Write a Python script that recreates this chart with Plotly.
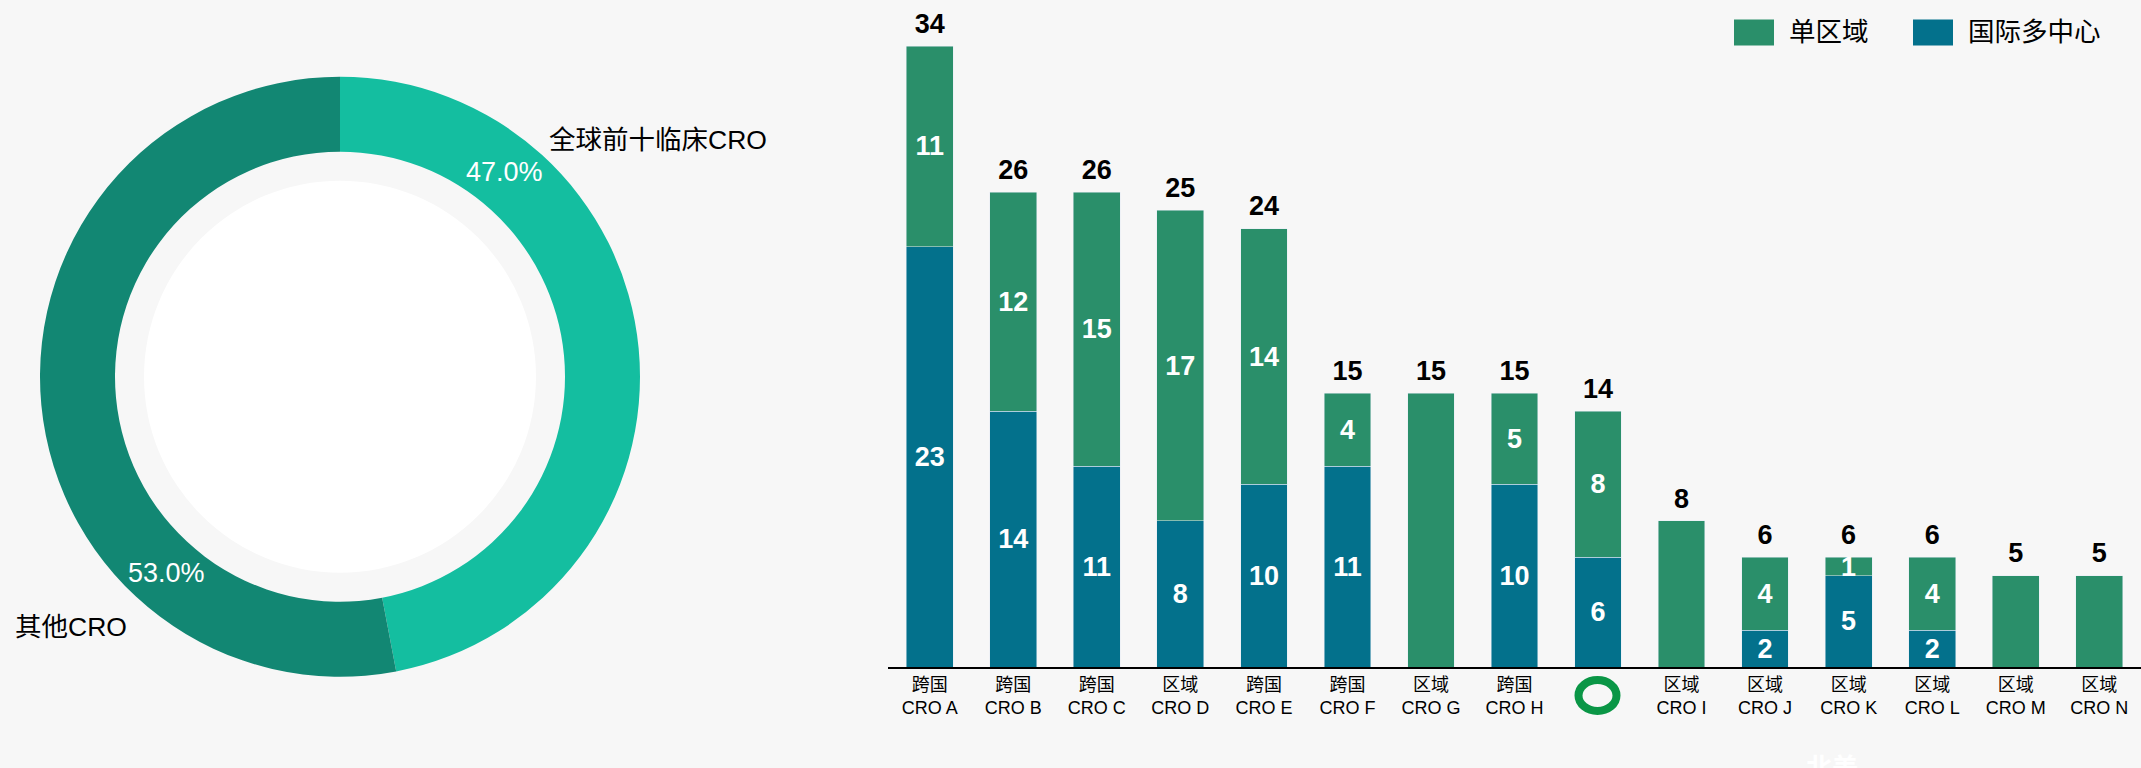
import plotly.graph_objects as go
import math

# ---------------- data ----------------
donut_labels = ["全球前十临床CRO", "其他CRO"]
donut_values = [47, 53]

cro_ids = ["CRO A", "CRO B", "CRO C", "CRO D", "CRO E", "CRO F", "CRO G", "CRO H",
           "Tigermed", "CRO I", "CRO J", "CRO K", "CRO L", "CRO M", "CRO N"]
cro_types = ["跨国", "跨国", "跨国", "区域", "跨国", "跨国", "区域", "跨国",
             "", "区域", "区域", "区域", "区域", "区域", "区域"]
single_region = [11, 12, 15, 17, 14, 4, 15, 5, 8, 8, 4, 1, 4, 5, 5]     # 单区域
multi_center = [23, 14, 11, 8, 10, 11, 0, 10, 6, 0, 2, 5, 2, 0, 0]     # 国际多中心

tick_labels = [f"{t}<br>{n}" if t else "" for t, n in zip(cro_types, cro_ids)]
totals = [a + b for a, b in zip(single_region, multi_center)]

# ---------------- style ----------------
W, H = 2141, 768
BG = "#f7f7f7"
GREEN = "#2a8f6a"
BLUE = "#03718c"
LIGHT = "#14bea0"
DARK = "#128773"
FONT = "Liberation Sans, Arial, Noto Sans CJK SC, sans-serif"


def px_x(x):
    return x / W


def px_y(y):
    return 1 - y / H


fig = go.Figure()

# ---------------- donut ----------------
cx, cy, r_out, r_in, r_white = 340, 376.7, 300, 225, 196
fig.add_trace(go.Pie(
    labels=donut_labels, values=donut_values, hole=r_in / r_out,
    sort=False, direction="clockwise", rotation=0,
    marker=dict(colors=[LIGHT, DARK], line=dict(width=0)),
    textinfo="none", hoverinfo="label+percent", showlegend=False,
    domain=dict(x=[px_x(cx - r_out), px_x(cx + r_out)],
                y=[px_y(cy + r_out), px_y(cy - r_out)]),
))
fig.add_trace(go.Pie(
    labels=[""], values=[1], sort=False,
    marker=dict(colors=["#ffffff"], line=dict(width=0)),
    textinfo="none", hoverinfo="skip", showlegend=False,
    domain=dict(x=[px_x(cx - r_white), px_x(cx + r_white)],
                y=[px_y(cy + r_white), px_y(cy - r_white)]),
))

total_donut = sum(donut_values)
pct_angles = [38.9, 221.5]
r_lab = 262.5
annotations = []
for v, ang in zip(donut_values, pct_angles):
    a = math.radians(ang)
    x = cx + r_lab * math.sin(a)
    y = cy - r_lab * math.cos(a)
    annotations.append(dict(
        text=f"{v / total_donut * 100:.1f}%", x=px_x(x), y=px_y(y),
        xref="paper", yref="paper", showarrow=False,
        xanchor="center", yanchor="middle",
        font=dict(family=FONT, size=27, color="#ffffff")))

outer_pos = [(547, 140), (12.7, 627)]
for lab, (x, y) in zip(donut_labels, outer_pos):
    annotations.append(dict(
        text=lab, x=px_x(x), y=px_y(y), xref="paper", yref="paper",
        showarrow=False, xanchor="left", yanchor="middle",
        font=dict(family=FONT, size=26.5, color="#000000")))

# ---------------- stacked bars ----------------
fig.add_trace(go.Bar(
    name="国际多中心", x=cro_ids, y=multi_center, marker_color=BLUE,
    text=[str(v) if v > 0 else "" for v in multi_center],
    textposition="inside", insidetextanchor="middle", textangle=0,
    textfont=dict(family=FONT, size=27, color="#ffffff", weight="bold"),
    cliponaxis=False, showlegend=False, xaxis="x", yaxis="y",
))
fig.add_trace(go.Bar(
    name="单区域", x=cro_ids, y=single_region, marker_color=GREEN,
    text=[str(s) if m > 0 else "" for s, m in zip(single_region, multi_center)],
    textposition="inside", insidetextanchor="middle", textangle=0,
    textfont=dict(family=FONT, size=27, color="#ffffff", weight="bold"),
    cliponaxis=False, showlegend=False, xaxis="x", yaxis="y",
))
fig.add_trace(go.Scatter(
    x=cro_ids, y=totals, mode="markers+text", text=[str(t) for t in totals],
    marker=dict(size=9, opacity=0),
    textposition="top center",
    textfont=dict(family=FONT, size=27, color="#000000", weight="bold"),
    cliponaxis=False, showlegend=False, hoverinfo="skip",
))

# ---------------- custom legend ----------------
shapes = []
legend_items = [("单区域", GREEN, 1734), ("国际多中心", BLUE, 1913)]
for name, col, x0 in legend_items:
    shapes.append(dict(type="rect", xref="paper", yref="paper",
                       x0=px_x(x0), x1=px_x(x0 + 40), y0=px_y(45.5), y1=px_y(19.5),
                       fillcolor=col, line=dict(width=0)))
    annotations.append(dict(
        text=name, x=px_x(x0 + 53), y=px_y(32), xref="paper", yref="paper",
        showarrow=False, xanchor="left", yanchor="middle",
        font=dict(family=FONT, size=26.5, color="#000000")))

# logo mark under the 9th bar
shapes.append(dict(type="circle", xref="paper", yref="paper",
                   x0=px_x(1578.5), x1=px_x(1616.5), y0=px_y(711), y1=px_y(680),
                   fillcolor="rgba(0,0,0,0)", line=dict(color="#0a9646", width=8)))
annotations.append(dict(
    text="<b>北美</b>", x=px_x(1832), y=px_y(768), xref="paper", yref="paper",
    showarrow=False, xanchor="center", yanchor="middle",
    font=dict(family=FONT, size=26, color="#ffffff")))

fig.update_layout(
    width=W, height=H, margin=dict(l=0, r=0, t=0, b=0),
    paper_bgcolor=BG, plot_bgcolor=BG,
    barmode="stack", bargap=0.44,
    font=dict(family=FONT, color="#000000"),
    uniformtext=dict(minsize=27, mode="show"),
    showlegend=False,
    xaxis=dict(domain=[px_x(888), 1], type="category",
               range=[-0.5, len(cro_ids) - 0.5],
               tickmode="array", tickvals=cro_ids, ticktext=tick_labels,
               tickfont=dict(family=FONT, size=18, color="#000000"),
               showline=True, linecolor="#000000", linewidth=2,
               showgrid=False, zeroline=False, ticks="", fixedrange=True),
    yaxis=dict(domain=[px_y(667), px_y(46)], range=[0, 34], visible=False,
               showgrid=False, zeroline=False, fixedrange=True),
    annotations=annotations, shapes=shapes,
)

fig.write_html("out.html", config={"displayModeBar": False},
               post_script="document.body.style.margin='0';document.body.style.overflow='hidden';")
